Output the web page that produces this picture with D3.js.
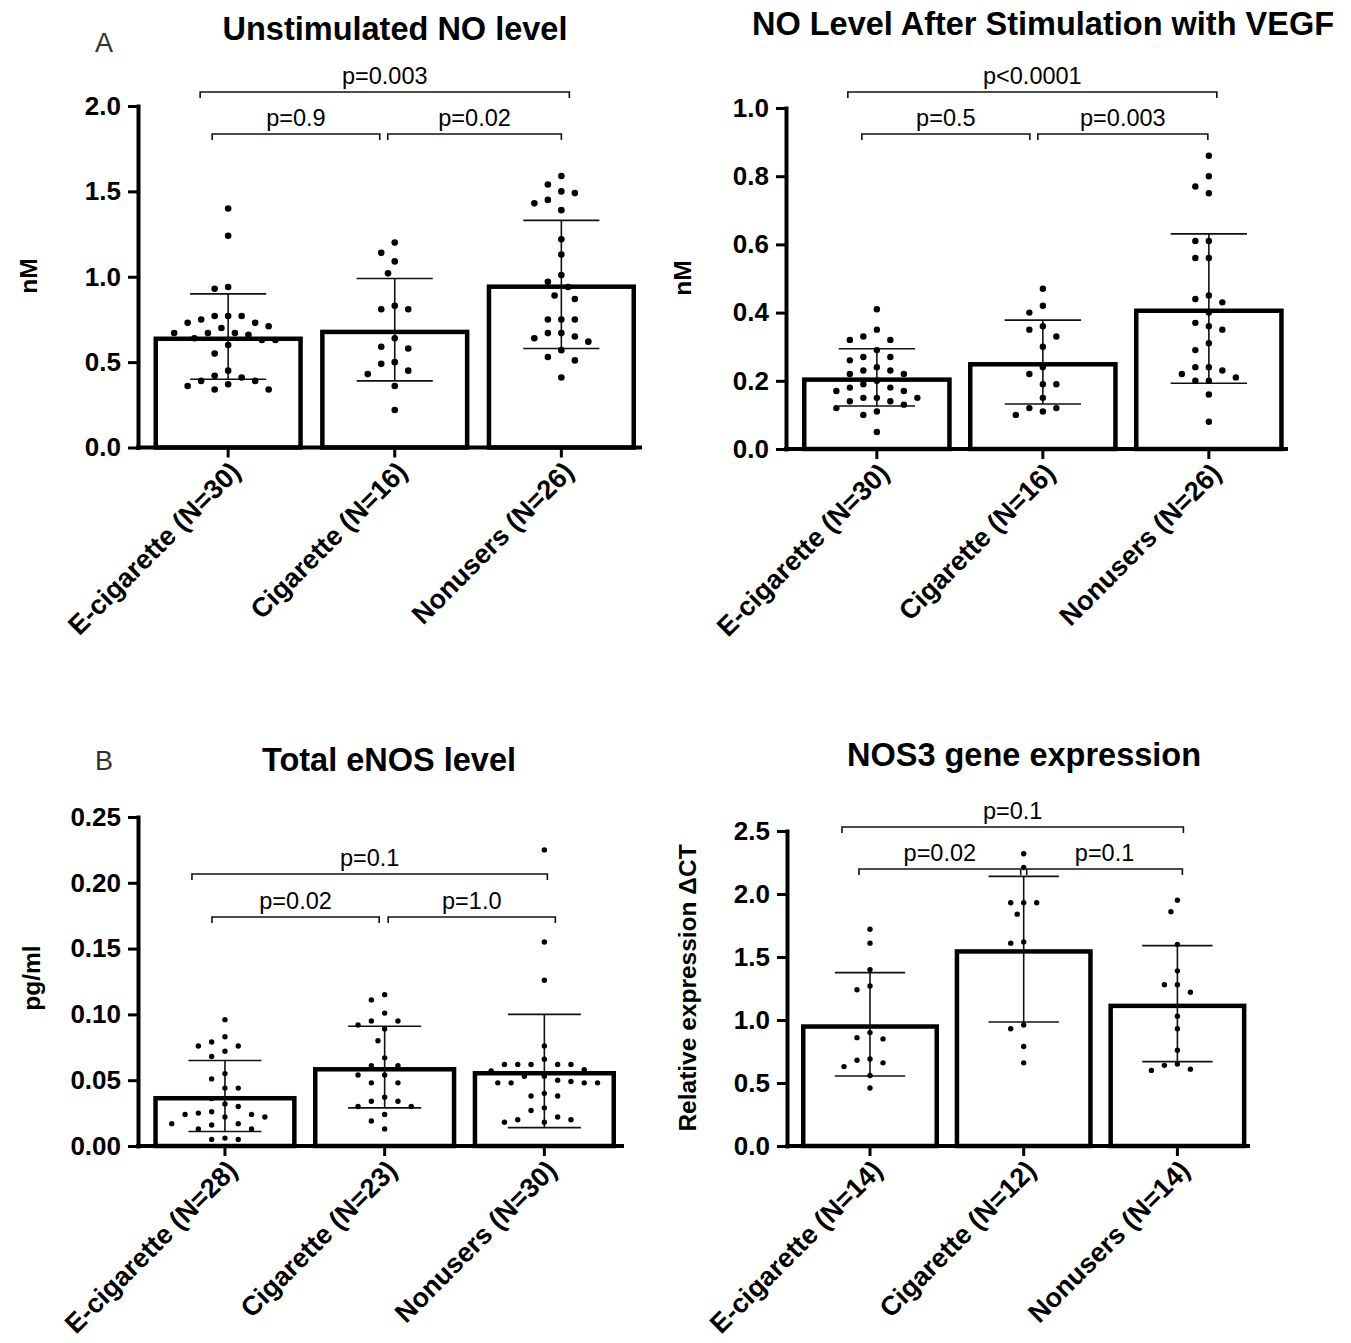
<!DOCTYPE html>
<html>
<head>
<meta charset="utf-8">
<script src="https://cdn.jsdelivr.net/npm/d3@7"></script>
<style>
  body { margin: 0; background: #fff; }
  svg { display: block; font-family: "Liberation Sans", Arial, Helvetica, sans-serif; }
</style>
</head>
<body>
<svg id="chart" width="1351" height="1343"></svg>
<script>
// ---- categories ----
const groupsNO = ["E-cigarette (N=30)", "Cigarette (N=16)", "Nonusers (N=26)"];
const groupsENOS = ["E-cigarette (N=28)", "Cigarette (N=23)", "Nonusers (N=30)"];
const groupsNOS3 = ["E-cigarette (N=14)", "Cigarette (N=12)", "Nonusers (N=14)"];

// ---- Unstimulated NO level (nM) ----
const noBaseEcig = [1.40, 1.24, 0.94, 0.93, 0.77, 0.77, 0.77, 0.75, 0.73, 0.73, 0.71, 0.70, 0.67, 0.67, 0.67,
  0.66, 0.64, 0.63, 0.63, 0.60, 0.55, 0.45, 0.42, 0.41, 0.39, 0.39, 0.37, 0.36, 0.34, 0.34];
const noBaseCig = [1.20, 1.14, 1.09, 1.02, 0.83, 0.81, 0.81, 0.64, 0.59, 0.58, 0.50, 0.49, 0.45, 0.43, 0.36, 0.22];
const noBaseNon = [1.59, 1.54, 1.50, 1.49, 1.45, 1.43, 1.39, 1.22, 1.13, 1.01, 0.97, 0.94, 0.89, 0.87, 0.75,
  0.75, 0.75, 0.67, 0.67, 0.65, 0.64, 0.62, 0.57, 0.53, 0.51, 0.41];
const noBaseMean = [0.65, 0.69, 0.955];
const noBaseSD = [0.25, 0.30, 0.375];
const noBaseTicks = [0, 0.5, 1.0, 1.5, 2.0];
const noBasePvals = ["p=0.003", "p=0.9", "p=0.02"];

// ---- NO level after VEGF (nM) ----
const noVegfEcig = [0.41, 0.35, 0.33, 0.32, 0.32, 0.29, 0.27, 0.27, 0.26, 0.24, 0.23, 0.23, 0.22, 0.22, 0.20,
  0.19, 0.18, 0.18, 0.17, 0.17, 0.15, 0.15, 0.15, 0.14, 0.14, 0.13, 0.12, 0.11, 0.10, 0.05];
const noVegfCig = [0.47, 0.42, 0.40, 0.36, 0.35, 0.33, 0.30, 0.24, 0.22, 0.19, 0.19, 0.15, 0.12, 0.12, 0.11, 0.10];
const noVegfNon = [0.86, 0.80, 0.77, 0.75, 0.61, 0.61, 0.56, 0.56, 0.45, 0.44, 0.43, 0.40, 0.37, 0.36, 0.35,
  0.31, 0.29, 0.24, 0.24, 0.23, 0.22, 0.21, 0.20, 0.20, 0.16, 0.08];
const noVegfMean = [0.21, 0.255, 0.412];
const noVegfSD = [0.084, 0.123, 0.219];
const noVegfTicks = [0, 0.2, 0.4, 0.6, 0.8, 1.0];
const noVegfPvals = ["p<0.0001", "p=0.5", "p=0.003"];

// ---- Total eNOS level (pg/ml) ----
const enosEcig = [0.096, 0.083, 0.079, 0.076, 0.076, 0.072, 0.068, 0.055, 0.051, 0.044, 0.044, 0.036, 0.032, 0.030,
  0.026, 0.025, 0.024, 0.024, 0.022, 0.022, 0.017, 0.017, 0.016, 0.013, 0.013, 0.006, 0.005, 0.005];
const enosCig = [0.115, 0.111, 0.101, 0.095, 0.095, 0.092, 0.089, 0.080, 0.067, 0.061, 0.061, 0.054, 0.054, 0.048,
  0.048, 0.037, 0.034, 0.034, 0.030, 0.030, 0.024, 0.019, 0.013];
const enosNon = [0.225, 0.155, 0.126, 0.076, 0.066, 0.062, 0.062, 0.062, 0.062, 0.062, 0.058, 0.057, 0.053, 0.053,
  0.050, 0.049, 0.048, 0.048, 0.048, 0.048, 0.040, 0.038, 0.038, 0.029, 0.027, 0.022, 0.020, 0.020, 0.018, 0.018];
const enosMean = [0.038, 0.060, 0.057];
const enosSD = [0.027, 0.031, 0.043];
const enosTicks = [0, 0.05, 0.10, 0.15, 0.20, 0.25];
const enosPvals = ["p=0.1", "p=0.02", "p=1.0"];

// ---- NOS3 gene expression (relative expression dCT) ----
const nos3Ecig = [1.72, 1.61, 1.40, 1.27, 1.24, 0.90, 0.86, 0.85, 0.69, 0.68, 0.66, 0.63, 0.56, 0.46];
const nos3Cig = [2.32, 2.21, 1.93, 1.93, 1.93, 1.84, 1.62, 1.61, 0.96, 0.93, 0.79, 0.66];
const nos3Non = [1.95, 1.86, 1.60, 1.39, 1.28, 1.28, 1.22, 1.03, 0.93, 0.76, 0.65, 0.64, 0.61, 0.60];
const nos3Mean = [0.966, 1.562, 1.13];
const nos3SD = [0.41, 0.578, 0.46];
const nos3Ticks = [0, 0.5, 1.0, 1.5, 2.0, 2.5];
const nos3Pvals = ["p=0.1", "p=0.02", "p=0.1"];

const svg = d3.select("#chart");

// greedy beeswarm: x offsets from the pixel y of each value
function swarm(ys, gap) {
  const placed = [];
  const order = d3.range(ys.length).sort((a, b) => ys[a] - ys[b]);
  const out = new Array(ys.length);
  order.forEach(i => {
    const y = ys[i];
    for (let k = 0; k < 40; k++) {
      const step = Math.ceil(k / 2) * gap / 2;
      const dx = k === 0 ? 0 : (k % 2 ? -step : step);
      const hit = placed.some(p => (p.x - dx) ** 2 + (p.y - y) ** 2 < (gap * 0.95) ** 2);
      if (!hit) { placed.push({ x: dx, y }); out[i] = dx; break; }
    }
  });
  return out;
}

function drawPanel(cfg) {
  const g = svg.append("g");
  const x = d3.scaleBand()
    .domain(cfg.groups)
    .range([cfg.barX0, cfg.barX0 + 2 * cfg.step + cfg.barW])
    .paddingInner(1 - cfg.barW / cfg.step)
    .paddingOuter(0);
  const y = d3.scaleLinear().domain([0, d3.max(cfg.ticks)]).range([cfg.y0, cfg.yTop]);
  const cx = d => x(d) + x.bandwidth() / 2;
  const sw = 4.5;

  // titles
  g.append("text")
    .attr("x", cfg.titleX).attr("y", cfg.titleY)
    .attr("text-anchor", "middle")
    .style("font-size", "32.5px").style("font-weight", "bold")
    .text(cfg.title);

  if (cfg.letter) {
    g.append("text")
      .attr("x", cfg.letterX).attr("y", cfg.letterY)
      .attr("text-anchor", "middle")
      .style("font-size", "27px").attr("fill", "#333")
      .text(cfg.letter);
  }

  // bars (border drawn inside the bar)
  g.selectAll(".bar")
    .data(cfg.groups)
    .join("rect")
    .attr("class", "bar")
    .attr("x", d => x(d) + sw / 2)
    .attr("y", (d, i) => y(cfg.means[i]) + sw / 2)
    .attr("width", x.bandwidth() - sw)
    .attr("height", (d, i) => y(0) - y(cfg.means[i]) - sw / 2)
    .attr("fill", "#fff")
    .attr("stroke", "#000")
    .attr("stroke-width", sw);

  // error bars (mean +/- SD)
  const capW = x.bandwidth() * 0.255;
  cfg.groups.forEach((grp, i) => {
    const lo = y(cfg.means[i] - cfg.sds[i]);
    const hi = y(cfg.means[i] + cfg.sds[i]);
    const c = cx(grp);
    const eb = g.append("g").attr("stroke", "#111").attr("stroke-width", 1.6);
    eb.append("line").attr("x1", c).attr("x2", c).attr("y1", lo).attr("y2", hi);
    eb.append("line").attr("x1", c - capW).attr("x2", c + capW).attr("y1", lo).attr("y2", lo);
    eb.append("line").attr("x1", c - capW).attr("x2", c + capW).attr("y1", hi).attr("y2", hi);
  });

  // individual points
  cfg.groups.forEach((grp, i) => {
    const vals = cfg.values[i];
    const ys = vals.map(v => y(v));
    const offs = swarm(ys, cfg.gap);
    g.append("g").selectAll("circle")
      .data(vals)
      .join("circle")
      .attr("cx", (d, j) => cx(grp) + offs[j])
      .attr("cy", d => y(d))
      .attr("r", cfg.r)
      .attr("fill", "#000");
  });

  // y axis
  const ya = g.append("g")
    .attr("transform", `translate(${cfg.axisX},0)`)
    .call(d3.axisLeft(y).tickValues(cfg.ticks).tickFormat(d3.format(cfg.fmt))
      .tickSize(10).tickSizeOuter(0).tickPadding(7));
  ya.select(".domain").attr("stroke-width", 4).attr("stroke-linecap", "square");
  ya.selectAll(".tick line").attr("stroke-width", 3);
  ya.selectAll(".tick text").style("font-size", "26px").style("font-weight", "bold").attr("fill", "#000");

  // x axis
  const xa = g.append("g")
    .attr("transform", `translate(0,${cfg.y0})`)
    .call(d3.axisBottom(x).tickSize(10).tickSizeOuter(0));
  xa.select(".domain").remove();
  xa.append("line")
    .attr("x1", cfg.axisX - 2).attr("x2", cfg.axisEnd)
    .attr("stroke", "#000").attr("stroke-width", 4);
  xa.selectAll(".tick line").attr("stroke-width", 3);
  xa.selectAll(".tick text")
    .attr("x", 0).attr("y", 0).attr("dy", 0)
    .attr("transform", "translate(14,26) rotate(-45)")
    .style("text-anchor", "end")
    .style("font-size", "27px").style("font-weight", "bold").attr("fill", "#000");

  // y label
  g.append("text")
    .attr("transform", `translate(${cfg.yLabelX},${cfg.yLabelY}) rotate(-90)`)
    .attr("text-anchor", "middle")
    .style("font-size", "24.5px").style("font-weight", "bold")
    .text(cfg.yLabel);

  // significance brackets
  cfg.brackets.forEach((b, k) => {
    const x1 = cx(cfg.groups[b.from]) + b.d1;
    const x2 = cx(cfg.groups[b.to]) + b.d2;
    g.append("path")
      .attr("d", `M${x1},${b.y + 6}V${b.y}H${x2}V${b.y + 6}`)
      .attr("fill", "none").attr("stroke", "#111").attr("stroke-width", 1.6);
    g.append("text")
      .attr("x", (x1 + x2) / 2).attr("y", b.y - 8)
      .attr("text-anchor", "middle")
      .style("font-size", "23.5px")
      .text(cfg.pvals[k]);
  });
}

drawPanel({
  groups: groupsNO, values: [noBaseEcig, noBaseCig, noBaseNon],
  means: noBaseMean, sds: noBaseSD, ticks: noBaseTicks, fmt: ".1f", pvals: noBasePvals,
  title: "Unstimulated NO level", titleX: 395, titleY: 40,
  letter: "A", letterX: 104, letterY: 52,
  yLabel: "nM", yLabelX: 37, yLabelY: 276,
  axisX: 138, axisEnd: 642, barX0: 153.5, step: 166.6, barW: 149.3,
  y0: 447.5, yTop: 106, r: 3.3, gap: 13.5,
  brackets: [
    { from: 0, to: 2, d1: -28, d2: 8, y: 92 },
    { from: 0, to: 1, d1: -16, d2: -15, y: 134 },
    { from: 1, to: 2, d1: -7, d2: 0, y: 134 }
  ]
});

drawPanel({
  groups: groupsNO, values: [noVegfEcig, noVegfCig, noVegfNon],
  means: noVegfMean, sds: noVegfSD, ticks: noVegfTicks, fmt: ".1f", pvals: noVegfPvals,
  title: "NO Level After Stimulation with VEGF", titleX: 1043, titleY: 35,
  yLabel: "nM", yLabelX: 691, yLabelY: 278,
  axisX: 786, axisEnd: 1288, barX0: 802, step: 166, barW: 149.7,
  y0: 449, yTop: 108, r: 3.2, gap: 13.5,
  brackets: [
    { from: 0, to: 2, d1: -29, d2: 8, y: 92 },
    { from: 0, to: 1, d1: -15, d2: -13, y: 134 },
    { from: 1, to: 2, d1: -5, d2: -1, y: 134 }
  ]
});

drawPanel({
  groups: groupsENOS, values: [enosEcig, enosCig, enosNon],
  means: enosMean, sds: enosSD, ticks: enosTicks, fmt: ".2f", pvals: enosPvals,
  title: "Total eNOS level", titleX: 389, titleY: 771,
  letter: "B", letterX: 104, letterY: 770,
  yLabel: "pg/ml", yLabelX: 40, yLabelY: 978,
  axisX: 138, axisEnd: 624, barX0: 153.3, step: 159.7, barW: 143.3,
  y0: 1146, yTop: 817, r: 2.7, gap: 13.3,
  brackets: [
    { from: 0, to: 2, d1: -33, d2: 3, y: 874 },
    { from: 0, to: 1, d1: -13, d2: -5.5, y: 917 },
    { from: 1, to: 2, d1: 3.5, d2: 11, y: 917 }
  ]
});

drawPanel({
  groups: groupsNOS3, values: [nos3Ecig, nos3Cig, nos3Non],
  means: nos3Mean, sds: nos3SD, ticks: nos3Ticks, fmt: ".1f", pvals: nos3Pvals,
  title: "NOS3 gene expression", titleX: 1024, titleY: 766,
  yLabel: "Relative expression \u0394CT", yLabelX: 696, yLabelY: 988,
  axisX: 787, axisEnd: 1250, barX0: 801, step: 153.7, barW: 138,
  y0: 1146, yTop: 831, r: 2.7, gap: 13,
  brackets: [
    { from: 0, to: 2, d1: -28, d2: 6, y: 827 },
    { from: 0, to: 1, d1: -11, d2: -3, y: 869 },
    { from: 1, to: 2, d1: 3, d2: 5, y: 869 }
  ]
});
</script>
</body>
</html>
